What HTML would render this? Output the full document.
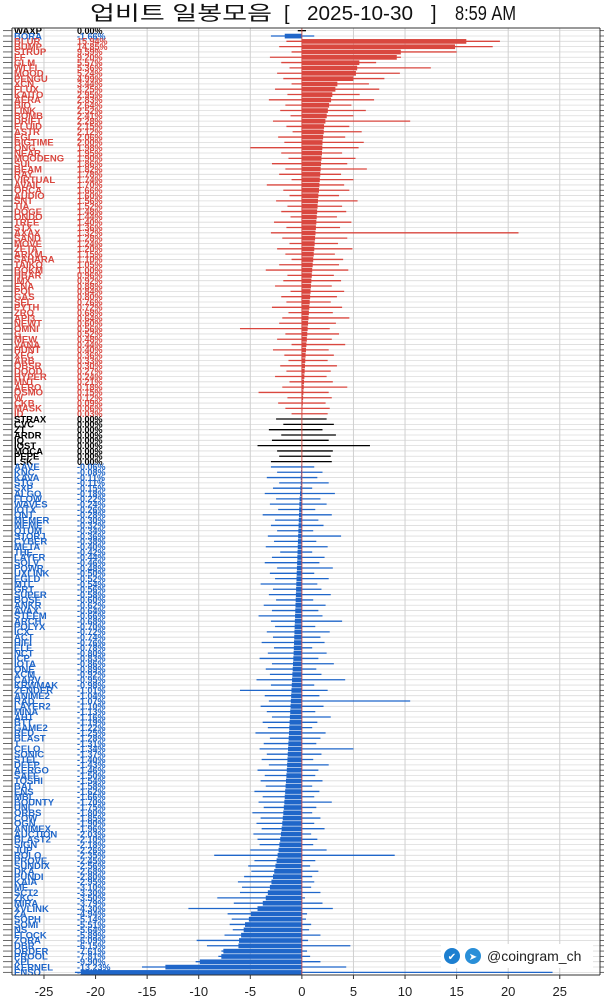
<!DOCTYPE html>
<html><head><meta charset="utf-8">
<style>
html,body{margin:0;padding:0;background:#fff;}
body{width:604px;height:999px;overflow:hidden;font-family:"Liberation Sans","Noto Sans CJK KR",sans-serif;}
svg text{font-family:"Liberation Sans","Noto Sans CJK KR",sans-serif;}
</style></head>
<body>
<svg id="chart" width="604" height="999" viewBox="0 0 604 999" xmlns="http://www.w3.org/2000/svg">
<text y="20" font-size="20" fill="#111"><tspan x="90" textLength="182" lengthAdjust="spacingAndGlyphs">업비트 일봉모음</tspan><tspan x="284">[</tspan><tspan x="307" textLength="106" lengthAdjust="spacingAndGlyphs">2025-10-30</tspan><tspan x="431">]</tspan><tspan x="455" textLength="61" lengthAdjust="spacingAndGlyphs">8:59 AM</tspan></text>
<g id="grid"></g><g id="marks"></g><g id="labels"></g><g id="axis"></g>
<g>
<rect x="441" y="944" width="152" height="24" fill="#fff"/>
<circle cx="452" cy="956" r="8" fill="#1d7fd0"/>
<text x="452" y="960" text-anchor="middle" font-size="10" fill="#fff">✔</text>
<circle cx="473" cy="956" r="8" fill="#2a8fd8"/>
<text x="473" y="960" text-anchor="middle" font-size="10" fill="#fff">➤</text>
<text x="487" y="961" font-size="14" fill="#222" font-family="Liberation Serif, serif">@coingram_ch</text>
</g>
</svg>
<script>
const topNames=["WAXP","BORA"];
const topValues=[0.00,-1.66];
const topLows=[-0.4,-3.0];
const topHighs=[0.4,1.2];
const redNames=["BLUR","BUMP","STRUP","FF","GLM","WLFI","MOOD","PENGU","XCN","FLUX","KAITO","AERA","BIO","LINK","BOMB","DRIFT","FLUID","ASTR","EGL","BIGTIME","ONG","NEAR","MOODENG","SUI","BEAM","RAY","VIRTUAL","AVAIL","ORCA","AUDIO","SNT","TIA","DOGE","ONDO","TREE","STX","AXAX","SAND","MOVE","ZETA","ARKM","SAHARA","TAIKO","BOKM","HBAR","IMX","ENA","POL","GAS","SEI","PYTH","ZRO","API3","NEWT","OMNI","G","MEW","VANA","HUNT","XEC","ARB","OBSR","DOOD","HYPER","MNT","AERO","OSMO","W","CKB","MASK","ID"];
const redValues=[15.94,14.85,9.59,9.2,5.57,5.36,5.24,4.99,3.44,3.25,2.95,2.83,2.64,2.52,2.41,2.28,2.15,2.12,2.06,2.0,1.98,1.95,1.9,1.86,1.82,1.78,1.74,1.7,1.66,1.6,1.56,1.52,1.48,1.44,1.4,1.36,1.32,1.28,1.24,1.2,1.15,1.1,1.05,1.0,0.96,0.92,0.88,0.84,0.8,0.76,0.72,0.68,0.64,0.6,0.56,0.52,0.48,0.44,0.4,0.36,0.33,0.3,0.27,0.24,0.21,0.18,0.15,0.12,0.09,0.06,0.03];
const redLows=[-1.5,-2.2,-1.0,-3.1,-2.0,-1.2,-2.4,-1.8,-1.0,-2.6,-1.4,-3.2,-1.6,-2.1,-1.1,-2.8,-1.5,-0.9,-2.3,-1.7,-5.0,-2.0,-1.3,-2.9,-1.6,-2.2,-1.0,-3.4,-1.8,-1.2,-2.5,-1.4,-2.0,-1.1,-2.7,-1.5,-3.0,-1.9,-1.2,-2.4,-1.6,-1.0,-2.2,-3.5,-1.4,-1.8,-2.6,-1.1,-2.0,-1.5,-2.9,-1.3,-1.9,-2.2,-6.0,-1.6,-2.4,-1.0,-2.8,-1.7,-1.3,-2.1,-1.5,-2.6,-1.2,-1.9,-4.2,-1.4,-2.3,-1.6,-1.0];
const redHighs=[19.2,18.5,15.0,9.6,7.2,12.5,9.5,8.0,6.5,7.5,5.6,7.0,4.8,6.2,5.0,10.5,4.6,5.8,4.2,6.0,5.5,3.9,5.2,4.4,6.3,3.8,5.0,4.1,4.6,3.6,5.4,3.9,4.3,3.4,4.8,3.7,21.0,4.4,3.5,4.9,3.2,4.0,3.6,4.5,3.1,3.8,2.9,4.1,3.4,2.8,3.9,3.0,4.6,3.3,2.7,3.6,2.9,4.2,2.6,3.1,2.5,3.4,2.8,2.4,3.0,4.4,2.6,2.9,2.3,2.7,2.5];
const zeroNames=["STRAX","CVC","ZT","ARDR","IQ","IOST","MOCA","PEPE","LSK"];
const zeroLows=[-2.5,-1.8,-3.2,-2.0,-2.9,-4.3,-2.4,-2.2,-3.0];
const zeroHighs=[2.4,3.1,2.0,3.3,2.6,6.6,3.0,2.8,2.9];
const blueNames=["AAVE","KNC","KAVA","STG","SXP","ALGO","FLOW","WAVES","IOTX","ONT","MEMER","MEME","QTUM","STORJ","CYBER","META","THE","LAYER","SOLV","POWR","UXLINK","EGLD","MTL","GRT","SUPER","BOSE","ANKR","AVAX","STEEM","ARCH","POLYX","ICX","ACT","HIFI","ELF","NCT","ICP","IOTA","ONE","XCM","CARV","KRWMAK","ZENDER","ANIME2","RAD","LAYER2","MINA","AHT","BTT","GAME2","RED","BLAST","T","CELO","SONIC","STEL","DEEP","AERGO","SAFE","TOSHI","BAT","ENS","MBL","BOUNTY","UNI","ORBS","COW","OGN","ANIMEX","AUCTION","BLAST2","SIGN","JUP","ROLO","PROVE","SUNDIX","DKA","PUNDI","KAIA","ME","SCT2","ZKC","MIRA","XVLINK","ZA","SOPH","SOMI","NS","FLOCK","ZORA","DBR","ORDER","PROOL","XPL","KERNEL","ENSO"];
const blueValues=[-0.06,-0.08,-0.11,-0.11,-0.15,-0.18,-0.22,-0.24,-0.26,-0.28,-0.3,-0.32,-0.34,-0.36,-0.38,-0.4,-0.42,-0.44,-0.46,-0.48,-0.5,-0.52,-0.54,-0.56,-0.58,-0.6,-0.62,-0.64,-0.66,-0.68,-0.7,-0.72,-0.74,-0.76,-0.78,-0.8,-0.83,-0.86,-0.89,-0.92,-0.95,-0.98,-1.01,-1.04,-1.07,-1.1,-1.13,-1.16,-1.19,-1.22,-1.25,-1.28,-1.31,-1.34,-1.37,-1.4,-1.43,-1.46,-1.5,-1.54,-1.58,-1.62,-1.66,-1.7,-1.75,-1.8,-1.85,-1.9,-1.96,-2.03,-2.1,-2.18,-2.26,-2.35,-2.45,-2.56,-2.68,-2.8,-2.95,-3.1,-3.3,-3.5,-3.79,-4.3,-4.94,-5.14,-5.51,-5.64,-5.89,-6.09,-6.15,-7.61,-7.81,-9.9,-13.23,-21.43];
const blueLows=[-3.0,-2.4,-3.4,-2.2,-2.8,-3.6,-2.5,-3.1,-2.3,-3.8,-2.6,-3.0,-2.4,-3.3,-2.7,-3.5,-2.1,-2.9,-3.6,-2.4,-3.1,-2.6,-4.0,-2.8,-3.2,-2.5,-3.7,-2.9,-4.2,-3.0,-2.6,-3.4,-2.8,-3.9,-2.7,-3.3,-4.1,-2.9,-3.5,-3.1,-4.4,-3.0,-6.0,-3.6,-3.2,-4.0,-3.4,-2.9,-3.8,-3.3,-4.5,-3.1,-3.7,-4.1,-3.4,-3.9,-3.2,-4.3,-3.6,-4.0,-3.5,-4.6,-3.8,-4.2,-3.7,-4.8,-4.0,-4.4,-3.9,-4.7,-4.3,-4.1,-5.0,-8.5,-4.6,-5.2,-4.9,-5.6,-6.2,-5.8,-6.0,-8.2,-6.6,-11.0,-7.2,-6.8,-7.0,-6.7,-7.5,-10.2,-9.2,-7.8,-8.1,-10.3,-15.5,-22.0];
const blueHighs=[1.2,2.0,1.5,2.6,1.0,3.2,1.8,2.4,1.3,2.9,1.6,2.1,1.1,3.8,1.4,2.5,1.0,2.2,1.7,3.0,1.2,2.6,1.5,1.9,2.8,1.1,2.3,1.6,2.0,3.9,1.3,2.7,1.8,2.2,1.0,2.4,1.6,3.1,1.4,1.9,4.2,1.2,2.5,1.7,10.5,2.1,1.3,2.8,1.5,1.0,2.3,1.8,1.4,5.0,1.9,1.1,2.6,1.6,1.3,2.0,1.0,1.7,1.2,2.9,1.4,1.0,1.8,1.2,2.2,0.9,1.5,1.1,2.4,9.0,1.3,0.8,1.6,1.0,1.2,0.9,1.8,0.3,2.0,3.0,0.5,0.4,0.9,0.7,1.8,0.6,4.7,0.5,0.8,1.8,4.3,24.3];

const NS="http://www.w3.org/2000/svg";
const X0=12,X1=600,Y0=28,Y1=975;
const xMin=-28.1,xMax=28.9;
function xs(v){return X0+(v-xMin)/(xMax-xMin)*(X1-X0);}
function grp(v){return v>0?1:(v<0?2:0);}
const rows=[];
topNames.forEach((n,i)=>rows.push({n,v:topValues[i],lo:topLows[i],hi:topHighs[i],g:grp(topValues[i])}));
redNames.forEach((n,i)=>rows.push({n,v:redValues[i]??0,lo:redLows[i]??0,hi:redHighs[i]??0,g:1}));
zeroNames.forEach((n,i)=>rows.push({n,v:0,lo:zeroLows[i],hi:zeroHighs[i],g:0}));
blueNames.forEach((n,i)=>rows.push({n,v:blueValues[i]??0,lo:blueLows[i]??0,hi:blueHighs[i]??0,g:2}));
const N=rows.length,rh=(Y1-Y0)/N;
function ys(i){return Y0+(i+0.5)*rh;}
function mk(tag,attrs,parent){const e=document.createElementNS(NS,tag);for(const k in attrs)e.setAttribute(k,attrs[k]);parent.appendChild(e);return e;}
const grid=document.getElementById('grid'),marks=document.getElementById('marks'),labels=document.getElementById('labels'),axis=document.getElementById('axis');
for(let i=0;i<N;i++){
  const l=mk('line',{x1:X0,x2:X1,y1:ys(i),y2:ys(i),stroke:'#dcdcdc','stroke-width':0.8},grid);
  
  
  mk('line',{x1:3,x2:X0,y1:ys(i),y2:ys(i),stroke:'#444','stroke-width':0.8},axis);
  mk('line',{x1:X1,x2:604,y1:ys(i),y2:ys(i),stroke:'#444','stroke-width':0.8},axis);
}
const ticks=[-25,-20,-15,-10,-5,0,5,10,15,20,25];
ticks.forEach(t=>{
  const g=mk('line',{x1:xs(t),x2:xs(t),y1:Y0,y2:Y1,stroke:t===0?'#bbb':'#d0d0d0','stroke-width':1},grid);
  
  
  mk('line',{x1:xs(t),x2:xs(t),y1:Y1,y2:Y1+4,stroke:'#333'},axis);
  const tx=mk('text',{x:xs(t),y:996,'text-anchor':'middle','font-size':13,fill:'#222'},axis);
  tx.textContent=String(t);
  
  
});
mk('line',{x1:X0,x2:X1,y1:Y1,y2:Y1,stroke:'#333'},axis);
mk('line',{x1:X0,x2:X0,y1:Y0,y2:Y1,stroke:'#333'},axis);
mk('line',{x1:X1,x2:X1,y1:Y0,y2:Y1,stroke:'#333'},axis);
mk('line',{x1:X0,x2:X1,y1:Y0,y2:Y0,stroke:'#333'},axis);
const cols=['#000','#d9473f','#1f66c9'];
rows.forEach((r,i)=>{
  const c=cols[r.g],y=ys(i);
  const w=mk('line',{x1:xs(r.lo),x2:xs(r.hi),y1:y,y2:y,stroke:c,'stroke-width':1.3},marks);
  
  
  if(r.v!==0){
    const b=mk('rect',{x:Math.min(xs(0),xs(r.v)),y:y-rh/2+0.4,width:Math.abs(xs(r.v)-xs(0)),height:rh-0.6,fill:c},marks);
    
    
  }
  const nt=mk('text',{x:14,y:y+3.3,'font-size':9.5,'font-weight':'bold',fill:c},labels);
  nt.textContent=r.n;
  
  
  const vt=mk('text',{x:77,y:y+3.3,'font-size':9,'font-weight':'bold',fill:c},labels);
  vt.textContent=r.v.toFixed(2)+'%';
  
  
});
mk('line',{x1:xs(0),x2:xs(0),y1:Y0,y2:Y1,stroke:'#d9473f','stroke-width':0.8},marks);
</script>
</body></html>
